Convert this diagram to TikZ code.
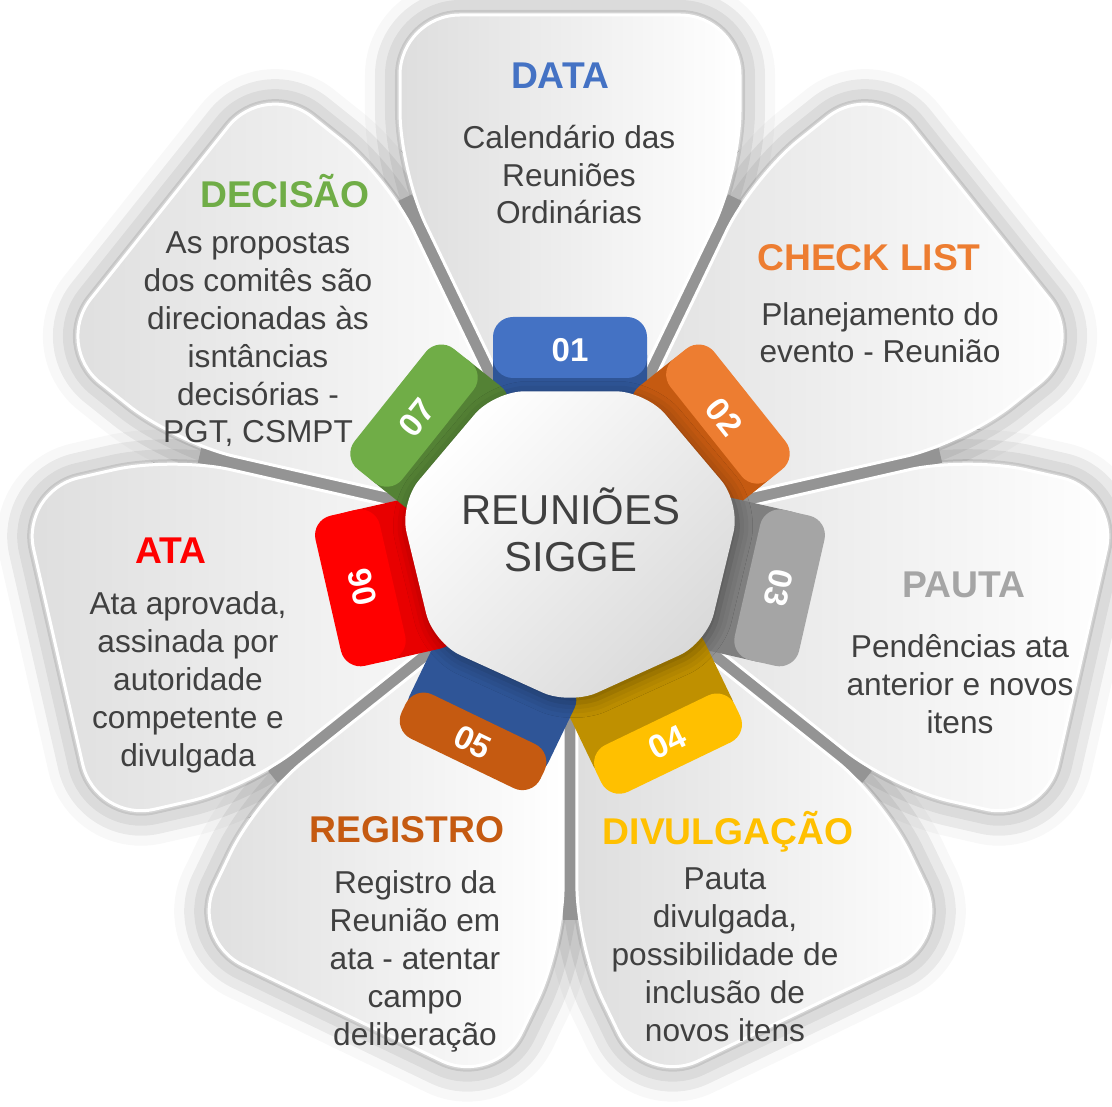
\documentclass[tikz,border=0pt]{standalone}
\usepackage{fontspec}
\setmainfont{Liberation Sans}
\usetikzlibrary{positioning,shapes.geometric,shadows.blur}

\definecolor{txtgray}{HTML}{404040}
\definecolor{blueA}{HTML}{4472C4}
\definecolor{blueB}{HTML}{2F5597}
\definecolor{orangeA}{HTML}{ED7D31}
\definecolor{orangeB}{HTML}{C55A11}
\definecolor{grayA}{HTML}{A5A5A5}
\definecolor{grayB}{HTML}{7F7F7F}
\definecolor{goldA}{HTML}{FFC000}
\definecolor{goldB}{HTML}{BF9000}
\definecolor{redA}{HTML}{FF0000}
\definecolor{redB}{HTML}{E80000}
\definecolor{greenA}{HTML}{70AD47}
\definecolor{greenB}{HTML}{548235}

\begin{document}
\begin{tikzpicture}[
  petalshadow/.style={rounded corners=0.6cm, draw=black!17, fill=black!17, line width=0.06cm,
    blur shadow={shadow xshift=0cm, shadow yshift=0cm, shadow blur radius=0.35cm, shadow opacity=45}},
  gap/.style={black!42, line width=0.15cm},
  petal/.style={rounded corners=0.6cm, draw=white, line width=0.03cm, left color=black!13, right color=white},
  hept/.style={regular polygon, regular polygon sides=7, shape border rotate=180, minimum size=3.3cm,
    inner sep=0pt, rounded corners=0.3cm, top color=white, bottom color=black!15, shading angle=45,
    blur shadow={shadow xshift=0.03cm, shadow yshift=-0.05cm, shadow blur radius=0.15cm, shadow opacity=35}},
  hubtext/.style={font=\fontsize{11.9}{13.4}\selectfont, text=txtgray, align=center, anchor=base, inner sep=0pt},
  badgenum/.style={font=\fontsize{9.4}{10}\selectfont\bfseries, text=white, inner sep=0pt},
  title/.style={font=\fontsize{10.6}{12}\selectfont\bfseries, anchor=base, inner sep=0pt},
  body/.style={font=\fontsize{9.0}{10.8}\selectfont, text=txtgray, align=center, anchor=base, inner sep=0pt},
]
\useasboundingbox (-5.70,-5.66) rectangle (5.42,5.40);

% petals: soft shadow, gray gaps, then the light faces
\foreach \dir in {90,38.57,-12.86,-64.29,-115.71,-167.14,141.43}
  \path[petalshadow, rotate=\dir-90] (0,0.16) -- (1.70,3.69) -- (1.70,5.25) -- (-1.70,5.25) -- (-1.70,3.69) -- cycle;
\foreach \v in {115.71,64.29,12.86,-38.57,-90,-141.43,167.14}
  \draw[gap] (0,0) -- (\v:3.8);
\foreach \dir in {90,38.57,-12.86,-64.29,-115.71,-167.14,141.43}
  \path[petal, rotate=\dir-90] (0,0.16) -- (1.70,3.69) -- (1.70,5.25) -- (-1.70,5.25) -- (-1.70,3.69) -- cycle;

% numbered tabs: direction / face from / face to / label radius
\foreach \dir/\fin/\fout/\tr/\num/\light/\dark/\rot in {
    90/1.62/2.23/1.90/01/blueA/blueB/0,
    38.57/1.74/2.30/1.97/02/orangeA/orangeB/-51.43,
    -12.86/1.82/2.48/2.14/03/grayA/grayB/-102.86,
    -64.29/2.00/2.52/2.25/04/goldA/goldB/25.71,
    -115.71/1.99/2.48/2.24/05/orangeB/blueB/-25.71,
    -167.14/1.82/2.48/2.13/06/redA/redB/102.86,
    141.43/1.69/2.30/1.96/07/greenA/greenB/51.43}{
  \begin{scope}[rotate=\dir-90]
    \fill[\dark, rounded corners=0.2cm] (-0.77,1.30) rectangle (0.77,\fout-0.18);
    \fill[\light, rounded corners=0.2cm] (-0.77,\fin) rectangle (0.77,\fout);
  \end{scope}
  \node[badgenum, rotate=\rot] (tab\num) at (\dir:\tr) {\num};
}

\node[hept, xscale=1.06, transform shape] (hub) at (0,0) {};
\node[hubtext] (hubtxt) at (0.01,-0.32) {REUNIÕES\\SIGGE};

% titles and descriptions (base = last line)
\node[title, text=blueA] (data) at (-0.10,4.51) {DATA};
\node[body] (datatxt) at (-0.01,3.16) {Calendário das\\Reuniões\\Ordinárias};

\node[title, text=orangeA] (check) at (2.99,2.69) {CHECK LIST};
\node[body] (checktxt) at (3.10,1.77) {Planejamento do\\evento - Reunião};

\node[title, text=grayA] (pauta) at (3.94,-0.58) {PAUTA};
\node[body] (pautatxt) at (3.90,-1.93) {Pendências ata\\anterior e novos\\itens};

\node[title, text=goldA] (divulg) at (1.58,-3.04) {DIVULGAÇÃO};
\node[body] (divulgtxt) at (1.55,-5.01) {Pauta\\divulgada,\\possibilidade de\\inclusão de\\novos itens};

\node[title, text=orangeB] (registro) at (-1.63,-3.02) {REGISTRO};
\node[body] (registrotxt) at (-1.55,-5.05) {Registro da\\Reunião em\\ata - atentar\\campo\\deliberação};

\node[title, text=redA] (ata) at (-3.99,-0.24) {ATA};
\node[body] (atatxt) at (-3.82,-2.26) {Ata aprovada,\\assinada por\\autoridade\\competente e\\divulgada};

\node[title, text=greenA] (decisao) at (-2.85,3.32) {DECISÃO};
\node[body] (decisaotxt) at (-3.12,0.97) {As propostas\\dos comitês são\\direcionadas às\\isntâncias\\decisórias -\\PGT, CSMPT};

\end{tikzpicture}
\end{document}
